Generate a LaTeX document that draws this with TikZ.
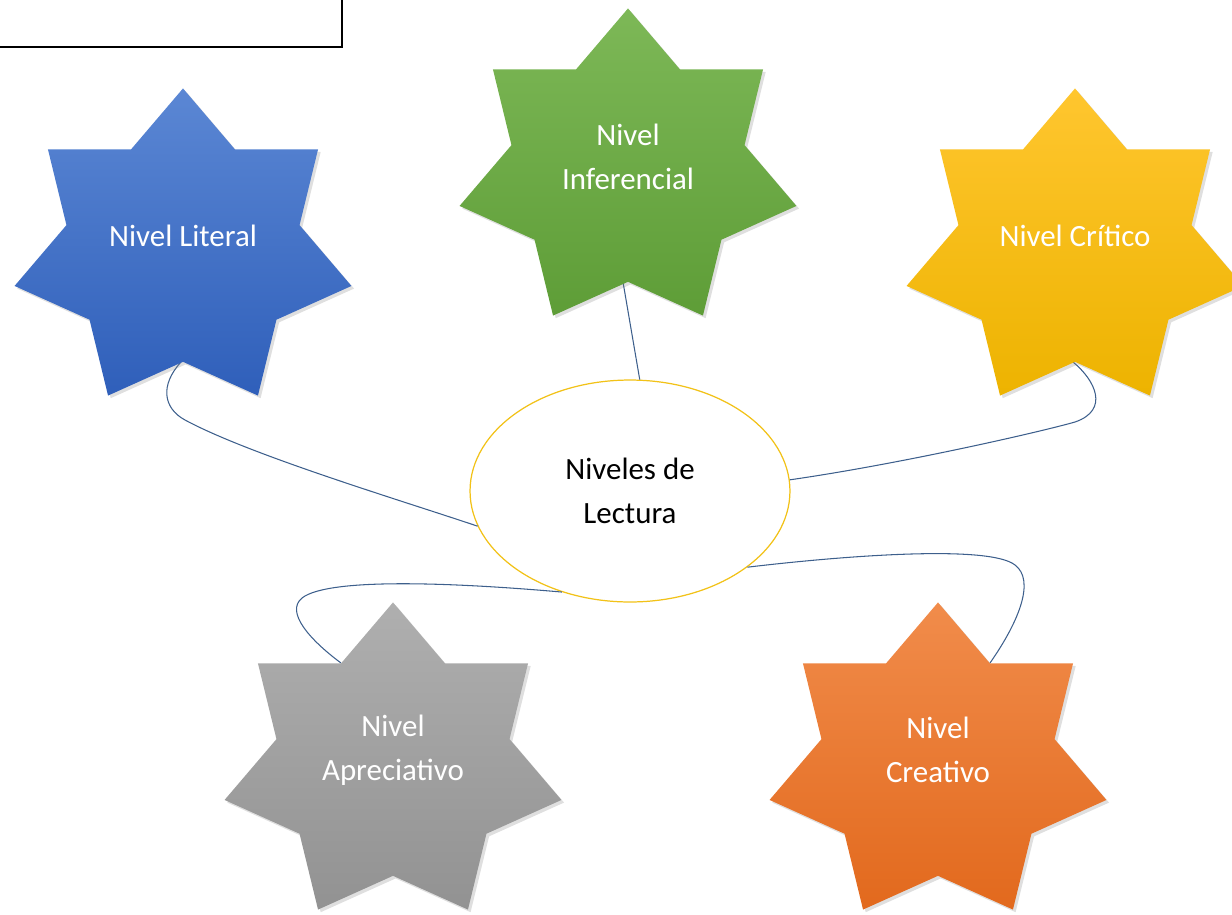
\documentclass[tikz,border=0pt]{standalone}
\usepackage{fontspec}
\usetikzlibrary{shapes.geometric,shadows}
\newfontfamily\calibri{Carlito}
\definecolor{blueA}{HTML}{5B87D4}\definecolor{blueB}{HTML}{2F5FBA}
\definecolor{greenA}{HTML}{7DB857}\definecolor{greenB}{HTML}{5E9D37}
\definecolor{yelA}{HTML}{FFC62F}\definecolor{yelB}{HTML}{EDB300}
\definecolor{grayA}{HTML}{AFAFAF}\definecolor{grayB}{HTML}{929292}
\definecolor{oraA}{HTML}{F18C4B}\definecolor{oraB}{HTML}{E2691D}
\definecolor{linkblue}{HTML}{3D5F8C}
\definecolor{ringyel}{HTML}{F2C218}
% seven pointed star: [shading](centre){name}
\def\nivelstar[#1](#2)#3{\begin{scope}[shift={(#2)},x=3.456cm,y=3.232cm]
	\path[#1,drop shadow={opacity=0.25,shadow xshift=1.5pt,shadow yshift=-1.5pt}] (90:1)
	\foreach \k in {1,...,13}{ -- ({90+\k*360/14}:{mod(\k,2)==0 ? 1 : 0.692})} -- cycle;
	\coordinate (#3-b) at (270:0.692);
	\coordinate (#3-ul) at ({90+360/14}:0.692);
	\coordinate (#3-ur) at ({90-360/14}:0.692);
	\end{scope}}

\begin{document}
\begin{tikzpicture}[x=0.02cm,y=-0.02cm,
	lvltext/.style={text=white,align=center,font=\calibri\fontsize{17.6}{25}\selectfont},
	link/.style={draw=linkblue,line width=0.6pt}]
		%%%%% START %%%%%
		\useasboundingbox (0,0) rectangle (1232,914);
		\draw[line width=1.4pt] (-10,-10) rectangle (342,47);
		
		% centre
		\node[ellipse,draw=ringyel,line width=0.7pt,fill=white,minimum width=6.4cm,minimum height=4.44cm,
			font=\calibri\fontsize{17.6}{25}\selectfont,align=center] (lect) at (630,491) {Niveles de\\Lectura};
		
		% connectors (drawn before the stars)
		\draw[link] (181,362) coordinate (lit-b) .. controls (160,385) and (163,408) .. (185,420)
			.. controls (250,455) and (400,500) .. (lect.193);
		\draw[link] (623,282) coordinate (inf-b) -- (lect.85);
		\draw[link] (1073,362) coordinate (cri-b) .. controls (1095,380) and (1110,410) .. (1075,422)
			.. controls (1040,432) and (900,464) .. (lect.4);
		\draw[link] (lect.236) .. controls (470,584) and (330,576) .. (302,598)
			.. controls (285,612) and (310,640) .. (341,663) coordinate (apr-ul);
		\draw[link] (lect.327) .. controls (850,555) and (990,545) .. (1015,565)
			.. controls (1035,580) and (1020,620) .. (990,663) coordinate (cre-ur);
		
		% stars
		\nivelstar[top color=blueA,bottom color=blueB](183,250){literal}
		\nivelstar[top color=greenA,bottom color=greenB](628,170){inferencial}
		\nivelstar[top color=yelA,bottom color=yelB](1075,250){critico}
		\nivelstar[top color=grayA,bottom color=grayB](393,764){apreciativo}
		\nivelstar[top color=oraA,bottom color=oraB](938,764){creativo}
		
		\node[lvltext] (lit) at (183,236) {Nivel Literal};
		\node[lvltext] (inf) at (628,157) {Nivel\\Inferencial};
		\node[lvltext] (cri) at (1075,236) {Nivel Crítico};
		\node[lvltext] (apr) at (393,750) {Nivel\\Apreciativo};
		\node[lvltext] (cre) at (938,750) {Nivel\\Creativo};
		%%%%% END %%%%%
\end{tikzpicture}
\end{document}
